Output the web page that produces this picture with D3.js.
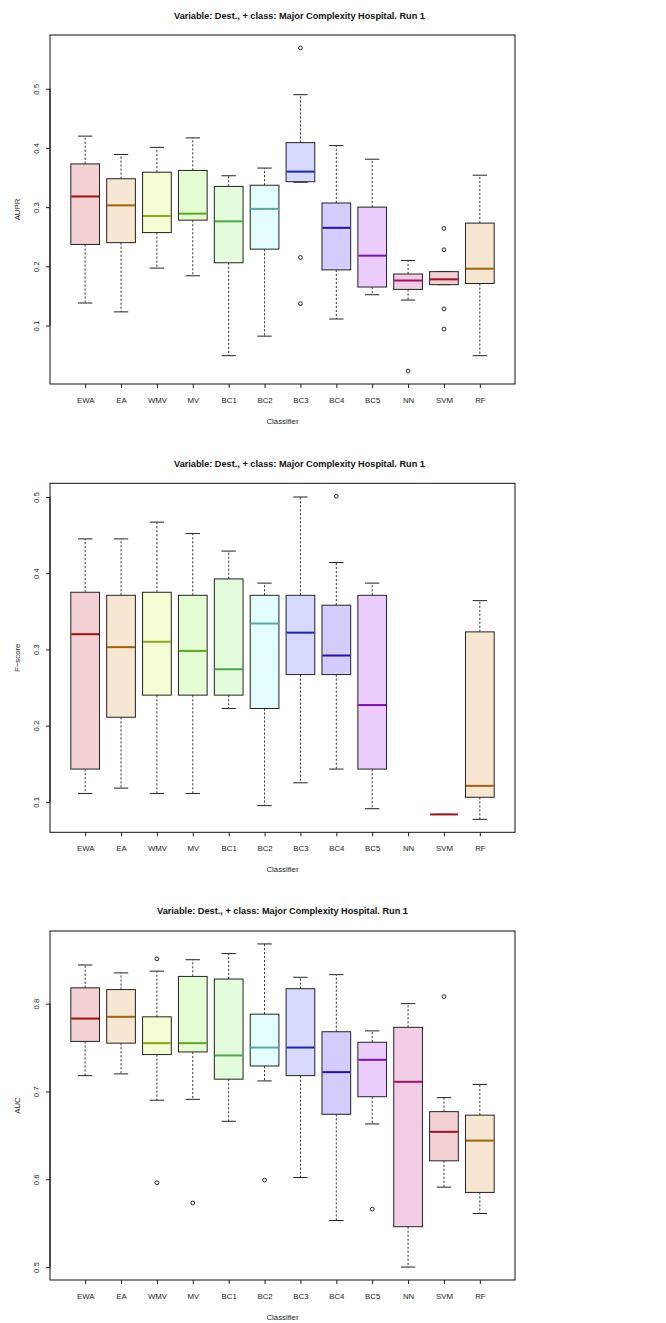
<!DOCTYPE html>
<html>
<head>
<meta charset="utf-8">
<script src="https://cdn.jsdelivr.net/npm/d3@7"></script>
<style>
html,body{margin:0;padding:0;background:#fff;}
svg{display:block;font-family:"Liberation Sans",Arial,Helvetica,sans-serif;}
</style>
</head>
<body>
<svg id="chart" width="666" height="1323"></svg>
<script>
// ---------------- DATA ----------------
const categories = ["EWA","EA","WMV","MV","BC1","BC2","BC3","BC4","BC5","NN","SVM","RF"];
const titleText = "Variable: Dest., + class: Major Complexity Hospital. Run 1";
const xLabel = "Classifier";

const fillColors   = ["#f2d0d4","#f7e6d2","#f3fcd2","#e3fcd4","#e3fcdc","#e3fcfc","#d6d8fc","#d5ccfc","#ecccfc","#f3cce6","#f2d0d4","#f7e6d2"];
const medianColors = ["#9e1010","#a0620a","#88aa12","#5aaa20","#4aa84a","#5aa8a8","#1a28b0","#2a10b0","#7a10b8","#a0106a","#a01020","#a0620a"];

// AUPR
const auprLo  = [0.138,0.123,0.197,0.184,0.049,0.082,0.342,0.111,0.152,0.143,0.169,0.049];
const auprQ1  = [0.237,0.240,0.257,0.278,0.206,0.229,0.343,0.194,0.165,0.161,0.169,0.171];
const auprMed = [0.318,0.303,0.285,0.289,0.276,0.297,0.360,0.265,0.218,0.176,0.178,0.196];
const auprQ3  = [0.373,0.348,0.359,0.362,0.335,0.337,0.409,0.307,0.300,0.187,0.191,0.273];
const auprHi  = [0.420,0.389,0.401,0.417,0.353,0.366,0.490,0.404,0.381,0.210,0.191,0.354];
const auprOut = [[6,0.569],[6,0.215],[6,0.137],[9,0.023],[10,0.264],[10,0.228],[10,0.128],[10,0.094]];
const auprTicks = [0.1,0.2,0.3,0.4,0.5];

// F-score (NN has no values)
const fLo  = [0.111,0.118,0.111,0.111,0.2225,0.095,0.125,0.143,0.091,null,0.0835,0.077];
const fQ1  = [0.143,0.211,0.240,0.240,0.240,0.2225,0.267,0.267,0.143,null,0.0835,0.106];
const fMed = [0.320,0.303,0.310,0.298,0.274,0.334,0.322,0.292,0.227,null,0.0835,0.121];
const fQ3  = [0.375,0.371,0.375,0.371,0.3925,0.371,0.371,0.358,0.371,null,0.0835,0.323];
const fHi  = [0.445,0.445,0.467,0.452,0.429,0.387,0.500,0.414,0.387,null,0.0835,0.364];
const fOut = [[7,0.501]];
const fTicks = [0.1,0.2,0.3,0.4,0.5];

// AUC
const aucLo  = [0.718,0.720,0.690,0.691,0.666,0.712,0.602,0.553,0.663,0.500,0.591,0.561];
const aucQ1  = [0.757,0.755,0.742,0.745,0.714,0.729,0.718,0.674,0.694,0.546,0.621,0.585];
const aucMed = [0.783,0.785,0.755,0.755,0.741,0.750,0.750,0.722,0.736,0.711,0.654,0.644];
const aucQ3  = [0.818,0.816,0.785,0.831,0.828,0.788,0.817,0.768,0.756,0.773,0.677,0.673];
const aucHi  = [0.844,0.835,0.837,0.850,0.857,0.868,0.830,0.833,0.769,0.800,0.693,0.708];
const aucOut = [[2,0.851],[2,0.596],[3,0.573],[5,0.599],[8,0.566],[10,0.808]];
const aucTicks = [0.5,0.6,0.7,0.8];

// ---------------- DRAW ----------------
const svg = d3.select("#chart");
const FONT = 7.8;

const panels = [
  {top:35,   bottom:384,  titleY:18.5,  titleX:299.5, ylab:"AUPR",    lo:auprLo, q1:auprQ1, med:auprMed, q3:auprQ3, hi:auprHi, out:auprOut, ticks:auprTicks},
  {top:483.3,bottom:832.3,titleY:466.8, titleX:299.5, ylab:"F\u2212score", lo:fLo, q1:fQ1, med:fMed, q3:fQ3, hi:fHi, out:fOut, ticks:fTicks},
  {top:931,  bottom:1280, titleY:914.2, titleX:282.5, ylab:"AUC",     lo:aucLo, q1:aucQ1, med:aucMed, q3:aucQ3, hi:aucHi, out:aucOut, ticks:aucTicks}
];

const left = 50, right = 515;
const n = categories.length;
const x = d3.scaleLinear().domain([0.5 - 0.04*n, n + 0.5 + 0.04*n]).range([left, right]);
const unit = x(1) - x(0);
const boxW = 0.8 * unit;
const stapW = 0.4 * unit;

panels.forEach(p => {
  const g = svg.append("g");
  // y domain like R: data range extended by 4%
  const allVals = [];
  for (let i = 0; i < n; i++) {
    if (p.lo[i] != null) allVals.push(p.lo[i], p.hi[i]);
  }
  p.out.forEach(o => allVals.push(o[1]));
  const mn = d3.min(allVals), mx = d3.max(allVals);
  const ext = (mx - mn) * 0.04;
  const y = d3.scaleLinear().domain([mn - ext, mx + ext]).range([p.bottom, p.top]);

  // title
  g.append("text").attr("x", p.titleX).attr("y", p.titleY)
    .attr("text-anchor","middle").attr("font-weight","bold")
    .attr("font-size", 9.2).attr("fill","#111").text(titleText);

  // boxes
  for (let i = 0; i < n; i++) {
    if (p.lo[i] == null) continue;
    const cx = x(i + 1);
    const dash = "2.2,1.8";
    // whiskers
    g.append("line").attr("x1",cx).attr("x2",cx).attr("y1",y(p.q3[i])).attr("y2",y(p.hi[i]))
      .attr("stroke","#222").attr("stroke-width",0.9).attr("stroke-dasharray",dash);
    g.append("line").attr("x1",cx).attr("x2",cx).attr("y1",y(p.q1[i])).attr("y2",y(p.lo[i]))
      .attr("stroke","#222").attr("stroke-width",0.9).attr("stroke-dasharray",dash);
    // staples
    [p.hi[i], p.lo[i]].forEach(v => {
      g.append("line").attr("x1",cx - stapW/2).attr("x2",cx + stapW/2)
        .attr("y1",y(v)).attr("y2",y(v)).attr("stroke","#222").attr("stroke-width",1);
    });
    // box
    g.append("rect").attr("x",cx - boxW/2).attr("width",boxW)
      .attr("y",y(p.q3[i])).attr("height",Math.max(0,y(p.q1[i]) - y(p.q3[i])))
      .attr("fill",fillColors[i]).attr("stroke","#222").attr("stroke-width",1);
    // median
    g.append("line").attr("x1",cx - boxW/2 + 0.5).attr("x2",cx + boxW/2 - 0.5)
      .attr("y1",y(p.med[i])).attr("y2",y(p.med[i]))
      .attr("stroke",medianColors[i]).attr("stroke-width",2);
  }
  // outliers
  g.selectAll("circle.out").data(p.out).enter().append("circle")
    .attr("cx", d => x(d[0] + 1)).attr("cy", d => y(d[1])).attr("r", 1.9)
    .attr("fill","none").attr("stroke","#111").attr("stroke-width",0.9);

  // frame
  g.append("rect").attr("x",left).attr("y",p.top).attr("width",right-left).attr("height",p.bottom-p.top)
    .attr("fill","none").attr("stroke","#111").attr("stroke-width",1);

  // y axis
  const ya = g.append("g").attr("transform",`translate(${left},0)`)
    .call(d3.axisLeft(y).tickValues(p.ticks).tickSize(4).tickFormat(d3.format(".1f")));
  ya.select(".domain").remove();
  ya.selectAll(".tick line").attr("stroke","#222");
  ya.selectAll(".tick text").attr("x",null).attr("dy",null)
    .attr("transform","translate(-11,0) rotate(-90)")
    .attr("text-anchor","middle").attr("font-size",FONT).attr("font-family",null).attr("fill","#222");
  g.append("line").attr("x1",left).attr("x2",left)
    .attr("y1",y(d3.min(p.ticks))).attr("y2",y(d3.max(p.ticks))).attr("stroke","#111");

  // x axis
  const xa = g.append("g").attr("transform",`translate(0,${p.bottom})`)
    .call(d3.axisBottom(x).tickValues(d3.range(1, n + 1)).tickSize(4)
      .tickFormat(d => categories[d - 1]));
  xa.select(".domain").remove();
  xa.selectAll(".tick line").attr("stroke","#222");
  xa.selectAll(".tick text").attr("y",19).attr("dy",null)
    .attr("font-size",FONT).attr("font-family",null).attr("fill","#222");

  // axis titles
  g.append("text").attr("x",(left+right)/2).attr("y",p.bottom + 39.5)
    .attr("text-anchor","middle").attr("font-size",FONT).attr("fill","#222").text(xLabel);
  const midY = (y(d3.min(p.ticks)) + y(d3.max(p.ticks))) / 2;
  g.append("text").attr("transform",`translate(20,${(p.top+p.bottom)/2}) rotate(-90)`)
    .attr("text-anchor","middle").attr("font-size",FONT).attr("fill","#222").text(p.ylab);
});
</script>
</body>
</html>
